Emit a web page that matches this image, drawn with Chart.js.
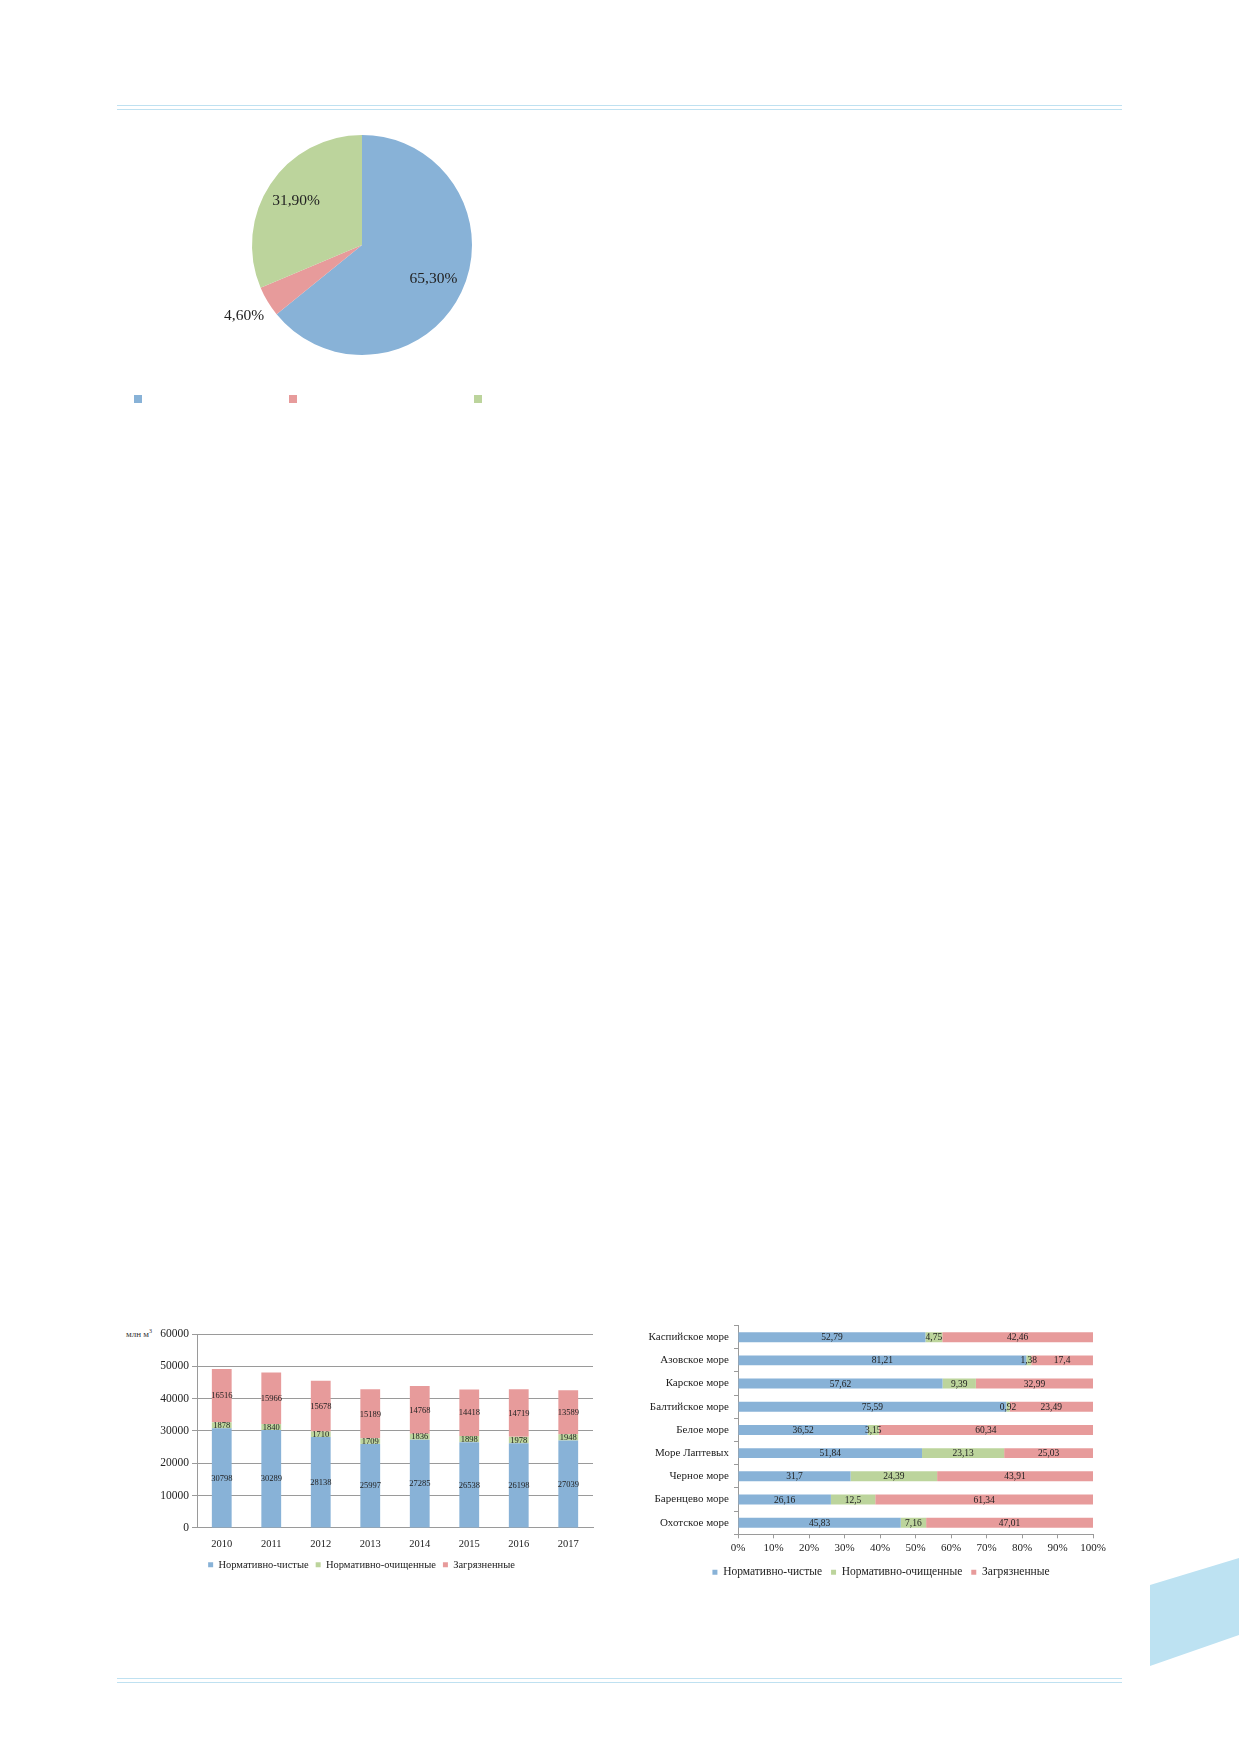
<!DOCTYPE html>
<html lang="ru">
<head>
<meta charset="utf-8">
<title>Водные объекты</title>
<script src="https://cdn.jsdelivr.net/npm/chart.js@4.4.1/dist/chart.umd.min.js"></script>
<style>
  html, body { margin: 0; padding: 0; background: #fff; }
  body { width: 1239px; height: 1752px; position: relative; overflow: hidden; font-family: "Liberation Serif", serif; }
  .box { position: absolute; }
  .rule { position: absolute; left: 117px; width: 1005px; height: 1px; background: #bfe1f1; }
  .sq { position: absolute; width: 8px; height: 8px; }
  .unit { position: absolute; left: 126px; top: 1328px; font-size: 9px; color: #333; }
  .deco { position: absolute; left: 1150px; top: 1558px; width: 89px; height: 108px; background: #bde2f2;
          clip-path: polygon(0 25%, 100% 0, 100% 71.3%, 0 100%); }
</style>
</head>
<body>

<div class="rule" style="top:105px"></div>
<div class="rule" style="top:109px"></div>
<div class="rule" style="top:1678px"></div>
<div class="rule" style="top:1682px"></div>
<div class="deco"></div>

<div class="box" style="left:202px;top:120px;width:320px;height:250px"><canvas id="pieChart"></canvas></div>
<div id="pieLegend"></div>

<div class="unit">млн м<sup style="font-size:6px">3</sup></div>
<div class="box" style="left:120px;top:1322px;width:490px;height:258px"><canvas id="yearChart"></canvas></div>

<div class="box" style="left:640px;top:1314px;width:482px;height:274px"><canvas id="seaChart"></canvas></div>

<script>
// ====== Data ======
const pieLabels = ['Нормативно-чистые', 'Нормативно-очищенные', 'Загрязненные'];
const pieValues = [65.3, 4.6, 31.9];

const years = ['2010', '2011', '2012', '2013', '2014', '2015', '2016', '2017'];
const cleanByYear = [30798, 30289, 28138, 25997, 27285, 26538, 26198, 27039];
const treatedByYear = [1878, 1840, 1710, 1709, 1836, 1898, 1978, 1948];
const pollutedByYear = [16516, 15966, 15678, 15189, 14768, 14418, 14719, 13589];

const seas = ['Каспийское море', 'Азовское море', 'Карское море', 'Балтийское море', 'Белое море',
  'Море Лаптевых', 'Черное море', 'Баренцево море', 'Охотское море'];
const cleanBySea = [52.79, 81.21, 57.62, 75.59, 36.52, 51.84, 31.7, 26.16, 45.83];
const treatedBySea = [4.75, 1.38, 9.39, 0.92, 3.15, 23.13, 24.39, 12.5, 7.16];
const pollutedBySea = [42.46, 17.4, 32.99, 23.49, 60.34, 25.03, 43.91, 61.34, 47.01];

const seriesNames = ['Нормативно-чистые', 'Нормативно-очищенные', 'Загрязненные'];

// ====== Colours ======
const BLUE = '#88b2d7';
const RED = '#e79b9b';
const GREEN = '#bcd49c';
const SERIF = '"Liberation Serif", "Times New Roman", serif';
const GRID = '#9a9a9a';

Chart.defaults.font.family = SERIF;
Chart.defaults.color = '#333';
Chart.defaults.animation = false;

const comma = v => String(v).replace('.', ',');

// value labels drawn in the middle of every bar segment
const barLabels = {
  id: 'barLabels',
  afterDatasetsDraw(chart, args, opts) {
    const ctx = chart.ctx;
    ctx.save();
    ctx.font = opts.size + 'px ' + SERIF;
    ctx.fillStyle = '#222';
    ctx.textAlign = 'center';
    ctx.textBaseline = 'middle';
    chart.data.datasets.forEach((ds, i) => {
      chart.getDatasetMeta(i).data.forEach((bar, j) => {
        const c = bar.getCenterPoint();
        ctx.fillText(comma(ds.data[j]), c.x, c.y + 0.5);
      });
    });
    ctx.restore();
  }
};

// percent labels for the pie, small slices go outside
const pieLabelsPlugin = {
  id: 'pieLabels',
  afterDatasetsDraw(chart) {
    const ctx = chart.ctx;
    const ds = chart.data.datasets[0];
    ctx.save();
    ctx.font = '15.5px ' + SERIF;
    ctx.fillStyle = '#222';
    ctx.textAlign = 'center';
    ctx.textBaseline = 'middle';
    chart.getDatasetMeta(0).data.forEach((arc, j) => {
      const p = arc.getProps(['x', 'y', 'startAngle', 'endAngle', 'outerRadius'], true);
      const mid = (p.startAngle + p.endAngle) / 2;
      const k = ds.data[j] < 10 ? 1.25 : 0.72;
      const x = p.x + Math.cos(mid) * p.outerRadius * k;
      const y = p.y + Math.sin(mid) * p.outerRadius * k;
      ctx.fillText(ds.data[j].toFixed(2).replace('.', ',') + '%', x, y);
    });
    ctx.restore();
  }
};

// ====== Pie ======
const pieColors = [BLUE, RED, GREEN];
new Chart(document.getElementById('pieChart'), {
  type: 'pie',
  data: {
    labels: pieLabels,
    datasets: [{ data: pieValues, backgroundColor: pieColors, borderWidth: 0 }]
  },
  options: {
    responsive: true,
    maintainAspectRatio: false,
    layout: { padding: 15 },
    plugins: { legend: { display: false }, tooltip: { enabled: false } }
  },
  plugins: [pieLabelsPlugin]
});

// legend of the pie: only the colour keys are visible in the source
const pieKeyX = [134, 289, 474];
const legendBox = document.getElementById('pieLegend');
pieColors.forEach((c, i) => {
  const s = document.createElement('div');
  s.className = 'sq';
  s.style.left = pieKeyX[i] + 'px';
  s.style.top = '395px';
  s.style.background = c;
  s.title = pieLabels[i];
  legendBox.appendChild(s);
});

// ====== Stacked bars by year ======
new Chart(document.getElementById('yearChart'), {
  type: 'bar',
  data: {
    labels: years,
    datasets: [
      { label: seriesNames[0], data: cleanByYear, backgroundColor: BLUE },
      { label: seriesNames[1], data: treatedByYear, backgroundColor: GREEN },
      { label: seriesNames[2], data: pollutedByYear, backgroundColor: RED }
    ]
  },
  options: {
    responsive: true,
    maintainAspectRatio: false,
    layout: { padding: { top: 12, right: 17, left: 10, bottom: 0 } },
    datasets: { bar: { barPercentage: 0.8, categoryPercentage: 0.5 } },
    scales: {
      x: {
        stacked: true,
        grid: { display: false },
        border: { color: GRID },
        ticks: { font: { size: 10.5 }, color: '#222', padding: 2 }
      },
      y: {
        stacked: true,
        min: 0,
        max: 60000,
        afterFit(scale) { scale.width = 67; },
        grid: { color: GRID, tickLength: 5, tickColor: GRID },
        border: { color: GRID },
        ticks: { stepSize: 10000, font: { size: 11.5 }, color: '#222', padding: 3, callback: v => String(v) }
      }
    },
    plugins: {
      tooltip: { enabled: false },
      legend: {
        position: 'bottom',
        labels: { boxWidth: 5, boxHeight: 5, padding: 7, font: { size: 10.5 }, color: '#222' }
      },
      barLabels: { size: 8.5 }
    }
  },
  plugins: [barLabels]
});

// ====== 100 % bars by sea ======
new Chart(document.getElementById('seaChart'), {
  type: 'bar',
  data: {
    labels: seas,
    datasets: [
      { label: seriesNames[0], data: cleanBySea, backgroundColor: BLUE },
      { label: seriesNames[1], data: treatedBySea, backgroundColor: GREEN },
      { label: seriesNames[2], data: pollutedBySea, backgroundColor: RED }
    ]
  },
  options: {
    indexAxis: 'y',
    responsive: true,
    maintainAspectRatio: false,
    layout: { padding: { top: 1, right: 0, left: 0, bottom: 0 } },
    datasets: { bar: { barPercentage: 0.86, categoryPercentage: 0.5 } },
    scales: {
      x: {
        stacked: true,
        min: 0,
        max: 100,
        grid: { drawOnChartArea: false, tickLength: 4, color: GRID },
        border: { color: GRID },
        ticks: { stepSize: 10, font: { size: 11 }, color: '#222', callback: v => v + '%' }
      },
      y: {
        stacked: true,
        afterFit(scale) { scale.width = 98; },
        grid: { drawOnChartArea: false, tickLength: 4, color: GRID },
        border: { color: GRID },
        ticks: { font: { size: 11 }, color: '#222', padding: 5 }
      },
      // empty spacer on the right so the legend sits where it does in the source
      spacer: {
        type: 'category',
        position: 'right',
        afterFit(scale) { scale.width = 29; },
        grid: { display: false },
        border: { display: false },
        ticks: { display: false }
      }
    },
    plugins: {
      tooltip: { enabled: false },
      legend: {
        position: 'bottom',
        labels: { boxWidth: 5, boxHeight: 5, padding: 9, font: { size: 11.5 }, color: '#222' }
      },
      barLabels: { size: 9.5 }
    }
  },
  plugins: [barLabels]
});
</script>
</body>
</html>
